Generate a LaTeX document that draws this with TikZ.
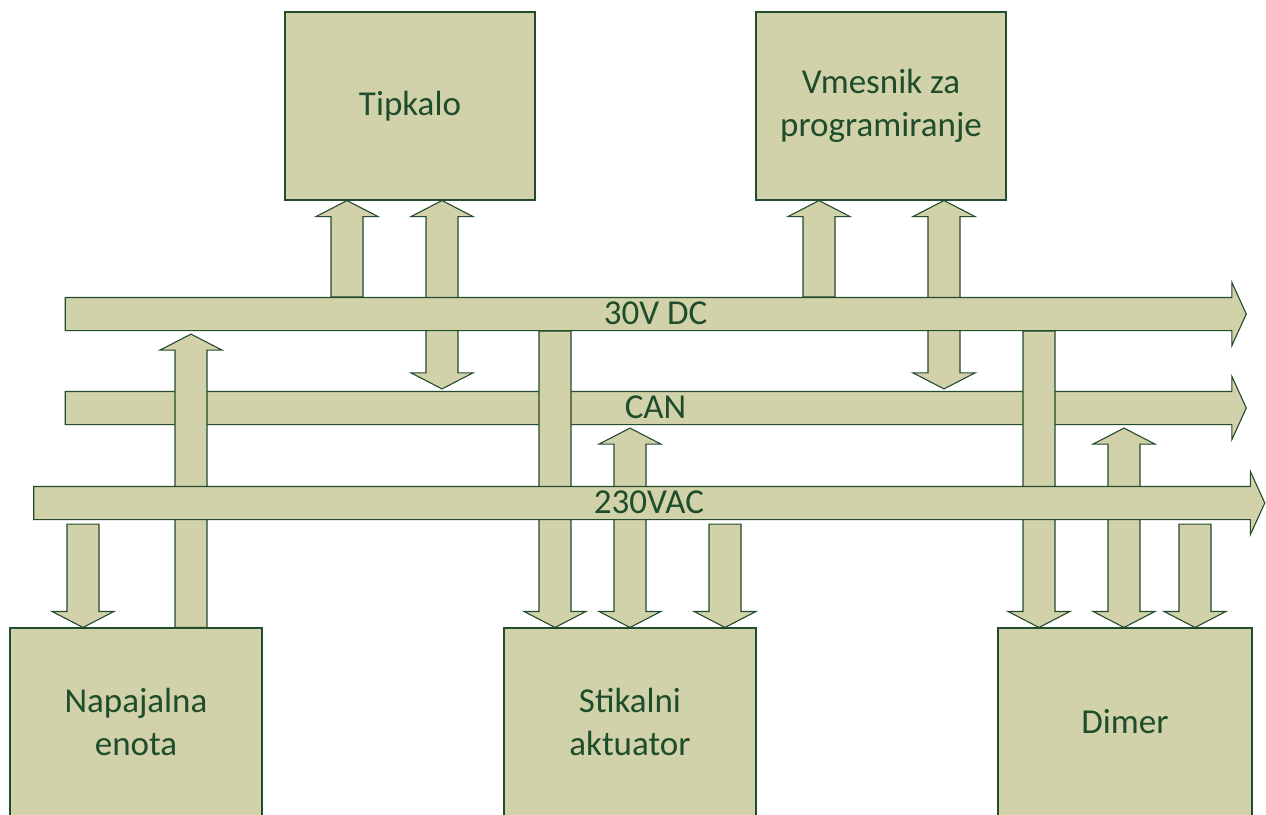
\documentclass[tikz,border=0pt]{standalone}
\usepackage{fontspec}
\setmainfont{Carlito}
\usetikzlibrary{calc,shapes.arrows,positioning}
\pgfdeclarelayer{front}
\pgfsetlayers{main,front}
\definecolor{busfill}{RGB}{210,210,170}
\definecolor{busline}{RGB}{35,75,45}
\definecolor{bustext}{RGB}{30,77,43}
\tikzset{
  blk/.style={draw=busline, fill=busfill, line width=1.1pt},
  unit/.style={blk, rectangle, minimum width=250, minimum height=188, align=center,
    text=bustext, inner sep=0pt, font=\fontsize{35}{43}\selectfont},
  bus/.style={blk, single arrow, single arrow head extend=15pt, single arrow tip angle=131,
    minimum width=62, inner xsep=0pt, inner ysep=0pt, text height=26.5pt, text depth=5.5pt,
    text=bustext, font=\fontsize{35}{42}\selectfont},
}
% vertical block arrows: x centre, tail, tip
\newcommand\vup[3]{\draw[blk] let \p1=(#2), \p2=(#3) in
  (#1pt-16pt,\y1) -- (#1pt-16pt,\y2-16pt) -- (#1pt-31pt,\y2-16pt) -- (#1pt,\y2)
  -- (#1pt+31pt,\y2-16pt) -- (#1pt+16pt,\y2-16pt) -- (#1pt+16pt,\y1) -- cycle;}
\newcommand\vdn[3]{\draw[blk] let \p1=(#2), \p2=(#3) in
  (#1pt-16pt,\y1) -- (#1pt-16pt,\y2+16pt) -- (#1pt-31pt,\y2+16pt) -- (#1pt,\y2)
  -- (#1pt+31pt,\y2+16pt) -- (#1pt+16pt,\y2+16pt) -- (#1pt+16pt,\y1) -- cycle;}
% double arrow: x centre, upper tip, lower tip
\newcommand\vdbl[3]{\draw[blk] let \p1=(#2), \p2=(#3) in
  (#1pt,\y1) -- (#1pt+31pt,\y1-16pt) -- (#1pt+16pt,\y1-16pt) -- (#1pt+16pt,\y2+16pt)
  -- (#1pt+31pt,\y2+16pt) -- (#1pt,\y2) -- (#1pt-31pt,\y2+16pt) -- (#1pt-16pt,\y2+16pt)
  -- (#1pt-16pt,\y1-16pt) -- (#1pt-31pt,\y1-16pt) -- cycle;}

\begin{document}
\begin{tikzpicture}[x=1pt,y=-1pt]
  \useasboundingbox (0,0) rectangle (1266,814);
  \clip (0,0) rectangle (1266,814);

  % units
  \node[unit] (tip) at (410,106) {Tipkalo};
  \node[unit] (vm) at (881,106) {Vmesnik za\\programiranje};
  \node[unit, minimum width=252] (nap) at (136,722) {Napajalna\\enota};
  \node[unit, minimum width=252] (sa) at (630,722) {Stikalni\\aktuator};
  \node[unit, minimum width=254] (dim) at (1125,722) {Dimer};

  % buses
  \node[bus, minimum height=1181] (can) at (652,408) {\hspace*{7pt}CAN};
  \begin{pgfonlayer}{front}
    \node[bus, minimum height=1181] (dc) at (652,314) {\hspace*{7pt}30V DC};
    \node[bus, minimum height=1231] (ac) at (645.5,503) {\hspace*{7pt}230VAC};
  \end{pgfonlayer}

  % Tipkalo
  \vup{347}{dc.north}{tip.south}
  \vdbl{442}{tip.south}{$(can.north)+(0,-2)$}
  % Vmesnik
  \vup{819}{dc.north}{vm.south}
  \vdbl{944}{vm.south}{$(can.north)+(0,-2)$}
  % Napajalna enota
  \vdn{83}{$(ac.south)+(0,4)$}{nap.north}
  \vup{191}{nap.north}{$(dc.south)+(0,3)$}
  % Stikalni aktuator
  \vdn{555}{dc.south}{sa.north}
  \vdbl{630}{$(can.south)+(0,3)$}{sa.north}
  \vdn{725}{$(ac.south)+(0,4)$}{sa.north}
  % Dimer
  \vdn{1039}{dc.south}{dim.north}
  \vdbl{1124}{$(can.south)+(0,3)$}{dim.north}
  \vdn{1195}{$(ac.south)+(0,4)$}{dim.north}
\end{tikzpicture}
\end{document}
